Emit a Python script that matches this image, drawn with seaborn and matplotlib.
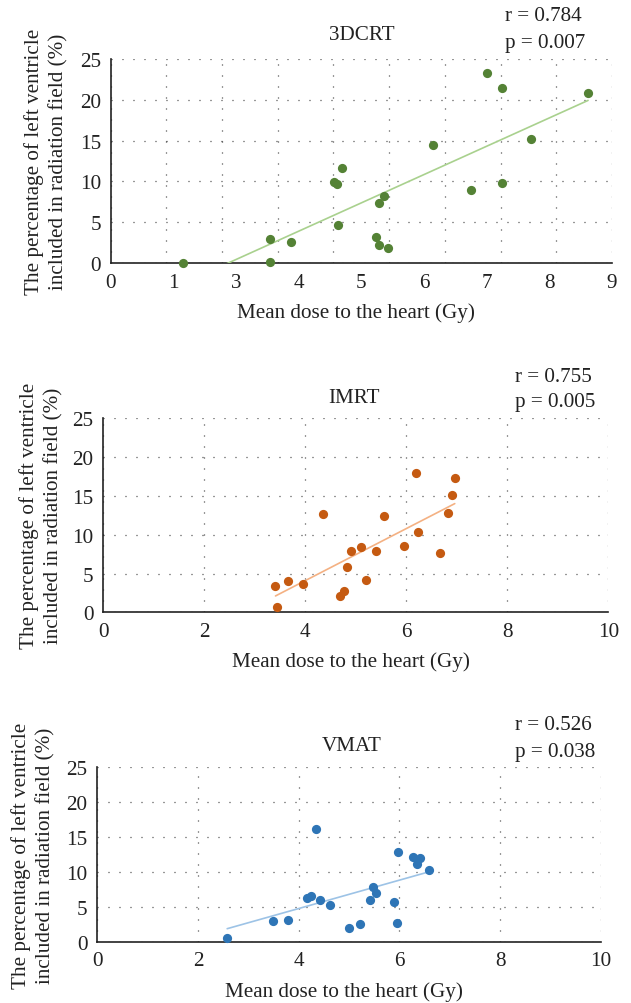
import numpy as np
import pandas as pd
import matplotlib
matplotlib.use('Agg')
import matplotlib.pyplot as plt
import seaborn as sns

sns.set_theme(style='white')
plt.rcParams['font.family'] = ['Liberation Serif', 'DejaVu Serif']
plt.rcParams['font.size'] = 15

# %% data (x in axis units of each panel)
dcrt_dose = [1.30, 2.86, 2.86, 3.23, 4.01, 4.06, 4.16, 4.08, 4.77, 4.81,
             4.98, 4.81, 4.91, 5.78, 6.47, 6.75, 7.02, 7.03, 7.55, 8.57]
dcrt_lv = [0.0, 2.9, 0.12, 2.6, 9.9, 9.7, 11.6, 4.7, 3.2, 2.2,
           1.8, 7.4, 8.2, 14.4, 8.9, 23.3, 21.4, 9.8, 15.2, 20.8]
dcrt_xticklabels = ['0', '1', '3', '4', '5', '6', '7', '8', '9']

imrt_dose = [3.41, 3.43, 3.66, 3.96, 4.36, 4.69, 4.77, 4.83, 4.91, 5.11,
             5.21, 5.40, 5.56, 5.96, 6.20, 6.24, 6.66, 6.82, 6.91, 6.96]
imrt_lv = [3.4, 0.7, 4.1, 3.7, 12.7, 2.1, 2.8, 5.8, 7.9, 8.4,
           4.2, 7.9, 12.4, 8.5, 18.0, 10.4, 7.6, 12.8, 15.1, 17.3]

vmat_dose = [2.58, 3.49, 3.79, 4.17, 4.25, 4.34, 4.43, 4.63, 4.99, 5.21,
             5.42, 5.48, 5.54, 5.89, 5.95, 5.97, 6.28, 6.42, 6.35, 6.58]
vmat_lv = [0.5, 3.0, 3.1, 6.3, 6.6, 16.2, 6.0, 5.3, 1.9, 2.5,
           6.0, 7.9, 7.0, 5.7, 2.7, 12.9, 12.2, 12.0, 11.1, 10.3]

panels = [
    dict(name='3DCRT', x=dcrt_dose, y=dcrt_lv, r='r = 0.784', p='p = 0.007',
         c='#548235', lc='#A9D18E', xmax=9),
    dict(name='IMRT', x=imrt_dose, y=imrt_lv, r='r = 0.755', p='p = 0.005',
         c='#C55A11', lc='#F4B183', xmax=10),
    dict(name='VMAT', x=vmat_dose, y=vmat_lv, r='r = 0.526', p='p = 0.038',
         c='#2E75B6', lc='#9DC3E6', xmax=10),
]

# axes boxes [left, bottom, width, height] in figure fraction
boxes = [[0.1754, 0.7371, 0.7945, 0.2032],
         [0.1637, 0.3891, 0.8003, 0.1932],
         [0.1542, 0.0611, 0.7978, 0.1737]]
# (title x, title y, stats x, r y, p y, xlabel y, ylabel x)
txtpos = [(0.50, 1.118, 0.787, 1.211, 1.083, -0.24, -0.128),
          (0.496, 1.11, 0.815, 1.218, 1.089, -0.251, -0.123),
          (0.506, 1.122, 0.83, 1.248, 1.093, -0.283, -0.127)]
fs = 15.2

fig = plt.figure(figsize=(6.31, 10.04), dpi=100)

for pan, box, tp in zip(panels, boxes, txtpos):
    ax = fig.add_axes(box)
    df = pd.DataFrame({'dose': pan['x'], 'lv': pan['y']})
    sns.regplot(data=df, x='dose', y='lv', ax=ax, ci=None,
                scatter_kws=dict(s=44, color=pan['c'], linewidths=0, alpha=1,
                                 clip_on=False, zorder=4),
                line_kws=dict(color=pan['lc'], lw=1.2, zorder=3))
    ax.set_xlim(0, pan['xmax'])
    ax.set_ylim(0, 25)
    ax.set_yticks(range(0, 26, 5))
    if pan['name'] == '3DCRT':
        # gridlines every unit, but the printed labels are spread evenly
        ax.xaxis.remove_overlapping_locs = False
        ax.set_xticks(range(0, 10))
        ax.set_xticklabels([])
        ax.set_xticks(np.linspace(0, 9, len(dcrt_xticklabels)),
                      labels=dcrt_xticklabels, minor=True)
    else:
        ax.set_xticks(range(0, 11, 2))
    ax.grid(True, which='major', color='#333333',
            linestyle=(0, (0.8, 8)), linewidth=0.9)
    ax.grid(False, which='minor')
    ax.tick_params(which='both', length=0, pad=7, labelsize=fs, colors='#222222')
    for s in ['top', 'right']:
        ax.spines[s].set_visible(False)
    for s in ['left', 'bottom']:
        ax.spines[s].set_color('#222222')
        ax.spines[s].set_linewidth(1.2)

    ax.set_xlabel('Mean dose to the heart (Gy)', fontsize=fs, color='#222222')
    ax.xaxis.set_label_coords(0.49, tp[5])
    ax.xaxis.label.set_va('center')
    ax.set_ylabel('The percentage of left ventricle\nincluded in radiation field (%)',
                  fontsize=fs, linespacing=1.35, color='#222222')
    ax.yaxis.set_label_coords(tp[6], 0.5)
    ax.yaxis.label.set_va('center')

    ax.text(tp[0], tp[1], pan['name'], transform=ax.transAxes, ha='center',
            va='center', fontsize=fs, color='#222222')
    ax.text(tp[2], tp[3], pan['r'], transform=ax.transAxes, ha='left',
            va='center', fontsize=fs, color='#222222')
    ax.text(tp[2], tp[4], pan['p'], transform=ax.transAxes, ha='left',
            va='center', fontsize=fs, color='#222222')

fig.savefig('out.png', dpi=100)
